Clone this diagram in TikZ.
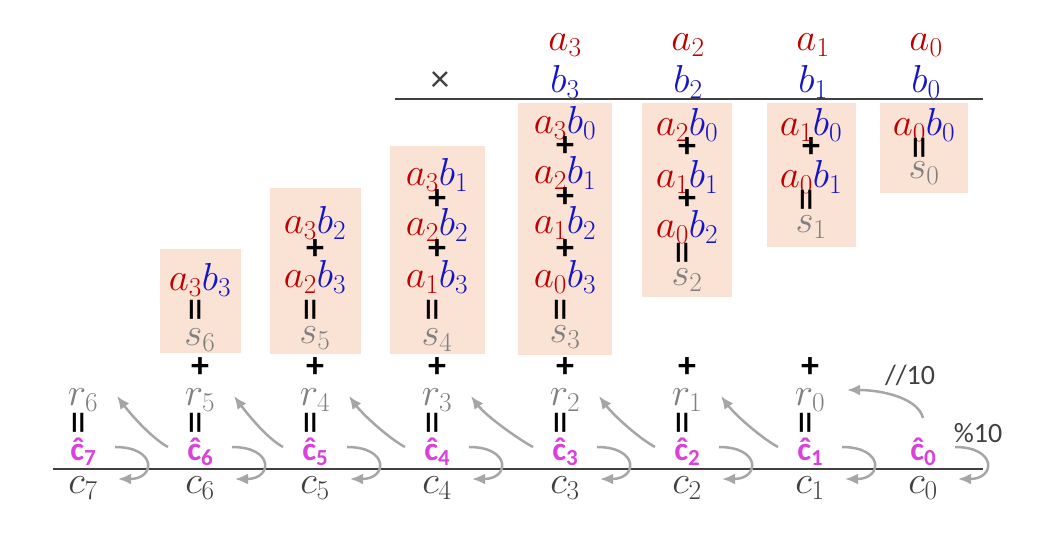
\RequirePackage{fix-cm}
\documentclass[tikz,border=0pt]{standalone}
\usepackage{amsmath}
\usepackage{fontspec}
\newfontfamily\calib{Carlito}
\usepackage{tikz}
\usetikzlibrary{arrows.meta, positioning}

\definecolor{tred}{RGB}{192,0,0}
\definecolor{tblue}{RGB}{20,20,200}
\definecolor{tgray}{RGB}{128,128,128}
\definecolor{tdark}{RGB}{64,64,64}
\definecolor{tpink}{RGB}{218,64,218}
\definecolor{tpeach}{RGB}{250,226,213}
\definecolor{tarrow}{RGB}{166,166,166}

\newcommand{\ab}[2]{\textcolor{tred}{a_{#1}}\textcolor{tblue}{b_{#2}}}
\newcommand{\hc}[1]{\textcolor{tpink}{\calib\bfseries\fontsize{33}{33}\selectfont ĉ\raisebox{-5pt}{\fontsize{23}{23}\selectfont #1}}}

\begin{document}
\begin{tikzpicture}[x=1pt, y=-1pt, >={Latex[length=13pt, width=11pt]},
  every node/.style={inner sep=0pt, font=\fontsize{39}{46}\selectfont},
  box/.style={fill=tpeach},
  op/.style={font=\calib\bfseries\fontsize{36}{36}\selectfont},
  eq/.style={font=\calib\fontsize{47}{47}\selectfont, rotate=90},
  opnote/.style={text=tdark, font=\calib\fontsize{28}{28}\selectfont},
  carry/.style={->, draw=tarrow, line width=2.5pt}]
  \useasboundingbox (0,0) rectangle (1058,533);

  % factors
  \node[text=tdark, font=\calib\fontsize{38}{38}\selectfont] (times) at (440,82) {×};
  \foreach \i/\x in {0/926, 1/813, 2/688, 3/565} {
    \node[text=tred] (a\i) at (\x,45) {$a_\i$};
    \node[text=tblue] (b\i) at (\x,82) {$b_\i$};
  }
  \coordinate (topL) at (395,99);
  \coordinate (topR) at (983,99);
  \draw[tdark, line width=2.5pt] (topL) -- (topR);

  % partial sums
  \node[box, minimum width=88, minimum height=90] (box0) at (924,148) {};
  \node[box, minimum width=89, minimum height=144] (box1) at (811.5,175) {};
  \node[box, minimum width=90, minimum height=194] (box2) at (687,200) {};
  \node[box, minimum width=94, minimum height=252] (box3) at (565,229) {};
  \node[box, minimum width=95, minimum height=208] (box4) at (437.5,250) {};
  \node[box, minimum width=91, minimum height=166] (box5) at (315.5,271) {};
  \node[box, minimum width=81, minimum height=104] (box6) at (200.5,301) {};

  \foreach \i/\j/\x/\y in {0/0/924/125, 1/0/811/125, 0/1/811/177,
      2/0/687/125, 1/1/687/177, 0/2/687/227,
      3/0/565/123, 2/1/565/173, 1/2/565/223, 0/3/565/277,
      3/1/437/175, 2/2/437/225, 1/3/437/277,
      3/2/315/223, 2/3/315/277, 3/3/200/280}
    \node (p\i\j) at (\x,\y) {$\ab{\i}{\j}$};
  \foreach \x/\y [count=\n] in {811/148, 687/148, 687/200, 565/147, 565/198,
      565/250, 437/200, 437/250, 315/250}
    \node[op] (plus\n) at (\x,\y) {+};
  \foreach \k/\x/\ye/\ys in {0/924/148/173, 1/811/200/227, 2/687/253/280,
      3/565/310/337, 4/437/310/340, 5/315/310/338, 6/200/310/340} {
    \node[eq] (eq\k) at (\x,\ye) {=};
    \node[text=tgray] (s\k) at (\x,\ys) {$s_\k$};
  }

  % carries and digits
  \coordinate (botL) at (53,469);
  \coordinate (botR) at (983,469);
  \draw[tdark, line width=2.5pt] (botL) -- (botR);
  \foreach \k/\x in {0/923, 1/810, 2/687, 3/565, 4/437, 5/315, 6/200, 7/83} {
    \node (h\k) at (\x,452) {\hc{\k}};
    \node[text=tdark] (c\k) at (\x,488) {$c_\k$};
  }
  \foreach \k/\r/\x in {1/0/810, 2/1/687, 3/2/565, 4/3/437, 5/4/315, 6/5/200, 7/6/83} {
    \node[text=tgray] (r\r) at (\x,400) {$r_\r$};
    \node[eq] (req\k) at (\x,423) {=};
  }
  \foreach \k/\x in {1/810, 2/687, 3/565, 4/437, 5/315, 6/200}
    \node[op] (add\k) at (\x,368) {+};

  \foreach \k in {0,...,7}
    \draw[carry] ([shift={(32,-5)}]h\k.center) .. controls +(42,0) and +(38,0) .. ([shift={(35,-9)}]c\k.center);
  \foreach \k in {1,...,6}
    \draw[carry] ([shift={(-32,-5)}]h\k.center) .. controls +(-15,-8) and +(15,20) .. ([shift={(34,-4)}]r\k.center);
  \draw[carry] ([shift={(0,-34)}]h0.center) .. controls +(-5,-20) and +(35,0) .. ([shift={(37,-10)}]r0.center);
  \node[opnote] (div) at (910,375) {//10};
  \node[opnote] (mod) at (978,433) {\%10};
\end{tikzpicture}
\end{document}
